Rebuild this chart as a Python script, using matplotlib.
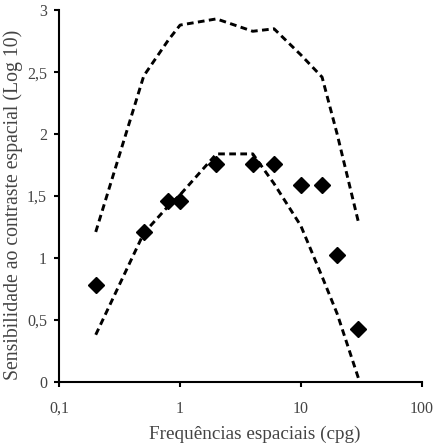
import matplotlib
matplotlib.use("Agg")
import matplotlib.pyplot as plt
from matplotlib.ticker import FixedLocator, FuncFormatter, NullLocator

# spatial frequencies (cpg)
freqs = [0.2, 0.5, 0.8, 1, 2, 4, 6, 10, 15, 20, 30]
# measured sensitivity (log10)
sens = [0.78, 1.21, 1.46, 1.46, 1.76, 1.76, 1.76, 1.59, 1.59, 1.02, 0.43]
# normative limits (dashed)
upper = [1.21, 2.47, 2.76, 2.88, 2.93, 2.83, 2.85, 2.64, 2.46, 2.00, 1.29]
lower = [0.38, 1.20, 1.42, 1.51, 1.84, 1.84, 1.60, 1.26, 0.85, 0.55, 0.03]

x_ticks = [0.1, 1, 10, 100]
x_labels = ["0,1", "1", "10", "100"]
y_ticks = [0, 0.5, 1, 1.5, 2, 2.5, 3]

plt.rcParams['font.family'] = ['Liberation Serif', 'DejaVu Serif']
text_col = '#444444'

fig = plt.figure(figsize=(4.40, 4.44), dpi=100)
ax = fig.add_axes([0.135, 0.140, 0.823, 0.837])

dash = (0, (2.3, 1.5))
ax.plot(freqs, upper, color='black', linewidth=2.1, linestyle=dash)
ax.plot(freqs, lower, color='black', linewidth=2.1, linestyle=dash)
ax.plot(freqs, sens, linestyle='none', marker='D', markersize=8,
        color='black')

ax.set_xscale('log')
ax.set_xlim(0.1, 100)
ax.set_ylim(0, 3)
ax.xaxis.set_major_locator(FixedLocator(x_ticks))
ax.xaxis.set_minor_locator(NullLocator())
ax.xaxis.set_major_formatter(FuncFormatter(lambda v, p: x_labels[x_ticks.index(v)] if v in x_ticks else ""))
ax.yaxis.set_major_locator(FixedLocator(y_ticks))
ax.yaxis.set_major_formatter(FuncFormatter(lambda v, p: f"{v:g}".replace(".", ",")))

for side in ['top', 'right']:
    ax.spines[side].set_visible(False)
for side in ['left', 'bottom']:
    ax.spines[side].set_linewidth(1.5)
ax.tick_params(axis='both', direction='out', length=3.5, width=1.5,
               labelsize=11.5, labelcolor=text_col)
ax.tick_params(axis='y', pad=5.5)
ax.tick_params(axis='x', pad=10)

ax.set_xlabel("Frequências espaciais (cpg)", fontsize=13.8, color=text_col)
ax.set_ylabel("Sensibilidade ao contraste espacial (Log 10)", fontsize=14.2,
              color=text_col)
ax.xaxis.set_label_coords(0.54, -0.118)
ax.yaxis.set_label_coords(-0.100, 0.475)

fig.savefig("out.png", dpi=100)
